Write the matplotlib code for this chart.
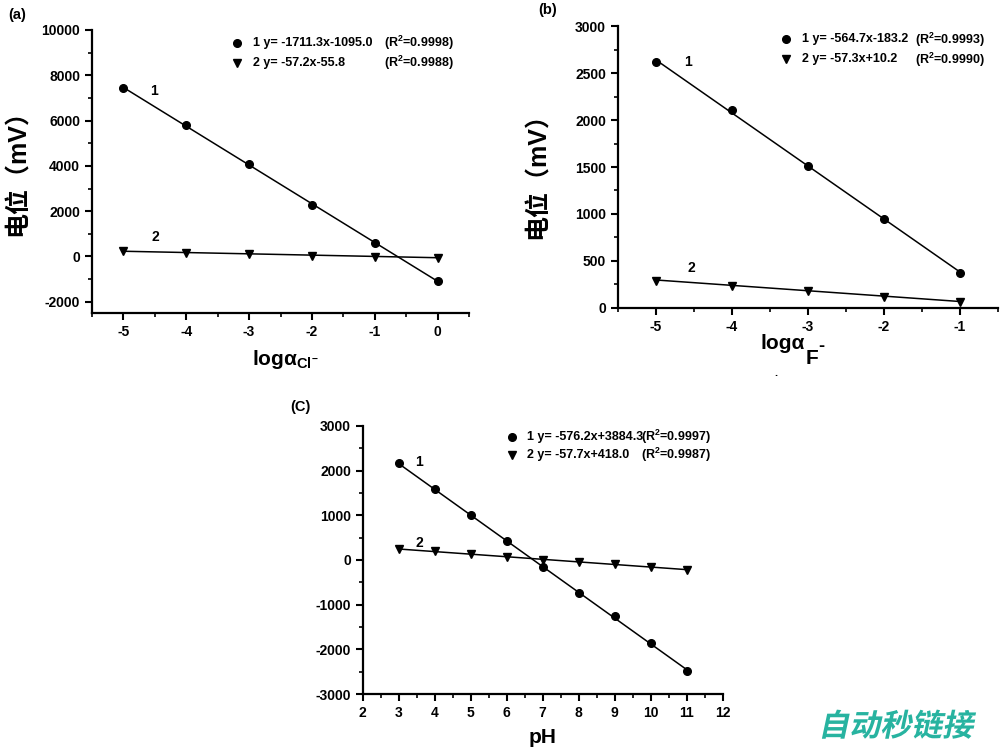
import numpy as np
import matplotlib
matplotlib.use("Agg")
import matplotlib.pyplot as plt
from matplotlib.ticker import MultipleLocator
from matplotlib.textpath import TextPath
from matplotlib.patches import PathPatch
from matplotlib.font_manager import FontProperties
from matplotlib.transforms import Affine2D

plt.rcParams["font.family"] = ["Liberation Sans", "Noto Sans CJK SC", "DejaVu Sans"]
plt.rcParams["font.weight"] = "bold"
plt.rcParams["mathtext.fontset"] = "custom"
plt.rcParams["mathtext.bf"] = "Liberation Sans:bold"
plt.rcParams["mathtext.rm"] = "Liberation Sans:bold"
plt.rcParams["mathtext.it"] = "Liberation Sans:bold"
plt.rcParams["axes.linewidth"] = 1.6
plt.rcParams["axes.unicode_minus"] = False

# (a) chloride
a_x = [-5, -4, -3, -2, -1, 0]
a_y1 = [7420, 5800, 4090, 2280, 590, -1100]
a_y2 = [220, 170, 110, 40, -20, -60]
a_fit1 = (-1711.3, -1095.0)
a_fit2 = (-57.2, -55.8)
a_eq = ["1 y= -1711.3x-1095.0", "2 y= -57.2x-55.8"]
a_r2 = ["(R$^2$=0.9998)", "(R$^2$=0.9988)"]

# (b) fluoride
b_x = [-5, -4, -3, -2, -1]
b_y1 = [2615, 2105, 1507, 946, 370]
b_y2 = [290, 235, 180, 120, 65]
b_fit1 = (-564.7, -183.2)
b_fit2 = (-57.3, 10.2)
b_eq = ["1 y= -564.7x-183.2", "2 y= -57.3x+10.2"]
b_r2 = ["(R$^2$=0.9993)", "(R$^2$=0.9990)"]

# (c) pH
c_x = [3, 4, 5, 6, 7, 8, 9, 10, 11]
c_y1 = [2170, 1580, 998, 415, -160, -744, -1251, -1865, -2484]
c_y2 = [240, 190, 130, 70, 10, -50, -100, -160, -220]
c_fit1 = (-576.2, 3884.3)
c_fit2 = (-57.7, 418.0)
c_eq = ["1 y= -576.2x+3884.3", "2 y= -57.7x+418.0"]
c_r2 = ["(R$^2$=0.9997)", "(R$^2$=0.9987)"]

fig = plt.figure(figsize=(10, 7.49), dpi=100)


def panel(rect, x, y1, y2, fit1, fit2, eq, r2, xlim, ylim, xmaj, ymaj, leg, lab1, lab2):
    ax = fig.add_axes(rect)
    xs = np.array([min(x), max(x)])
    ax.plot(xs, fit1[0] * xs + fit1[1], color="black", lw=1.1)
    ax.plot(xs, fit2[0] * xs + fit2[1], color="black", lw=1.1)
    ax.plot(x, y1, "o", color="black", ms=5.5)
    ax.plot(x, y2, "v", color="black", ms=6)
    ax.set_xlim(xlim)
    ax.set_ylim(ylim)
    ax.xaxis.set_major_locator(MultipleLocator(xmaj))
    ax.xaxis.set_minor_locator(MultipleLocator(xmaj / 2))
    ax.yaxis.set_major_locator(MultipleLocator(ymaj))
    ax.yaxis.set_minor_locator(MultipleLocator(ymaj / 2))
    ax.spines["top"].set_visible(False)
    ax.spines["right"].set_visible(False)
    ax.tick_params(which="major", direction="out", length=5, width=1.5, labelsize=10)
    ax.tick_params(which="minor", direction="out", length=3, width=1.2)
    for lbl in ax.get_xticklabels() + ax.get_yticklabels():
        lbl.set_fontweight("bold")
    ax.text(lab1[0], lab1[1], "1", fontsize=10, fontweight="bold")
    ax.text(lab2[0], lab2[1], "2", fontsize=10, fontweight="bold")
    mx, tx, rx, ry1, ry2 = leg
    ax.plot([mx], [ry1], "o", color="black", ms=5.5, transform=ax.transAxes, clip_on=False)
    ax.plot([mx], [ry2], "v", color="black", ms=6, transform=ax.transAxes, clip_on=False)
    for yy, e, r in zip([ry1, ry2], eq, r2):
        ax.text(tx, yy, e, transform=ax.transAxes, fontsize=9, fontweight="bold", va="center")
        ax.text(rx, yy, r, transform=ax.transAxes, fontsize=9, fontweight="bold",
                va="center", ha="right")
    return ax


panel([0.092, 0.582, 0.377, 0.378], a_x, a_y1, a_y2, a_fit1, a_fit2, a_eq, a_r2,
      (-5.5, 0.5), (-2500, 10000), 1, 2000,
      (0.385, 0.427, 0.960, 0.954, 0.883), (-4.58, 7150), (-4.55, 700))

panel([0.618, 0.589, 0.380, 0.376], b_x, b_y1, b_y2, b_fit1, b_fit2, b_eq, b_r2,
      (-5.5, -0.5), (0, 3000), 1, 500,
      (0.442, 0.483, 0.966, 0.953, 0.882), (-4.63, 2580), (-4.58, 380))

panel([0.3627, 0.0734, 0.360, 0.358], c_x, c_y1, c_y2, c_fit1, c_fit2, c_eq, c_r2,
      (2, 12), (-3000, 3000), 1, 1000,
      (0.414, 0.456, 0.967, 0.959, 0.891), (3.45, 2100), (3.48, 300))

# panel letters
fig.text(0.008, 0.980, "(a)", fontsize=10.5, fontweight="bold", va="center")
fig.text(0.538, 0.986, "(b)", fontsize=10.5, fontweight="bold", va="center")
fig.text(0.290, 0.457, "(C)", fontsize=10.5, fontweight="bold", va="center")

# y labels
fig.text(0.018, 0.777, "电位（mV）", rotation=90, fontsize=18, fontweight="bold",
         ha="center", va="center")
fig.text(0.538, 0.773, "电位（mV）", rotation=90, fontsize=18, fontweight="bold",
         ha="center", va="center")

# x labels
fig.text(0.285, 0.520, r"$\mathbf{log}$α$_{\mathbf{Cl^{-}}}$", fontsize=15,
         ha="center", va="center")
fig.text(0.805, 0.542, "logα", fontsize=15, fontweight="bold", ha="right", va="center")
fig.text(0.806, 0.522, "F", fontsize=15, fontweight="bold", ha="left", va="center")
fig.text(0.818, 0.538, "-", fontsize=13, fontweight="bold", ha="left", va="center")
fig.text(0.776, 0.502, ".", fontsize=8, ha="center", va="center")
fig.text(0.543, 0.016, "pH", fontsize=15, fontweight="bold", ha="center", va="center")

# watermark, slanted
fp = FontProperties(family="Noto Sans CJK SC", weight="heavy")
tp = TextPath((0, 0), "自动秒链接", size=31, prop=fp)
wm = PathPatch(tp, color="#27b3a0", lw=0,
               transform=Affine2D().skew_deg(12, 0).translate(818, 13))
fig.add_artist(wm)

fig.savefig("out.png", dpi=100)
